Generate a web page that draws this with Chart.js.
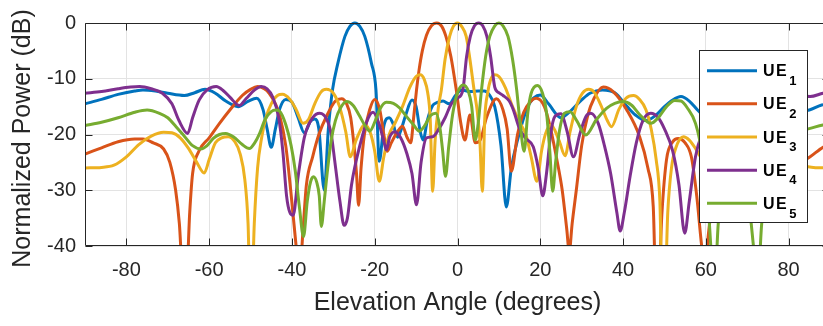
<!DOCTYPE html>
<html>
<head>
<meta charset="utf-8">
<title>Beam patterns</title>
<script src="https://cdn.jsdelivr.net/npm/chart.js@4.4.1/dist/chart.umd.min.js"></script>
<style>
  html, body { margin: 0; padding: 0; background: #fff; overflow: hidden; }
  #wrap { width: 840px; height: 326px; }
</style>
</head>
<body>
<div id="wrap"><canvas id="beamChart"></canvas></div>
<script>
// series names (TeX style, part after "_" is drawn as subscript)
const seriesNames = ["UE_1", "UE_2", "UE_3", "UE_4", "UE_5"];
const seriesColors = ["#0072BD", "#D95319", "#EDB120", "#7E2F8E", "#77AC30"];

const xTickValues = [-80, -60, -40, -20, 0, 20, 40, 60, 80];
const yTickValues = [-40, -30, -20, -10, 0];
const xTitle = "Elevation Angle (degrees)";
const yTitle = "Normalized Power (dB)";

// UE1 beam, steered to -25 deg
const ue1Angle = [-90,-86,-82,-78,-76,-73,-70,-66,-63.5,-61,-58.5,-56,-53,-50.5,-48.5,-47,-46,-45,-44,-43,-41.5,-40,-38.5,-37,-35.5,-34.5,-33.5,-32.2,-31.2,-30.2,-28.9,-27.2,-26,-24.8,-23.6,-22.4,-20.8,-19.7,-18.9,-17.8,-16.5,-15.6,-14.5,-13.8,-12.5,-11,-10,-9,-8.3,-7.3,-6,-5,-3.5,-2,-0.5,1,3,5,6.5,7.6,9,10.5,11.8,13,14.5,17,20,22,25,27,30,32,35,38,41,43,45.5,48,50,52,54,56,58,60,63,66,70,74,78,82,85,88,90];
const ue1Power = [-14.5,-13.7,-12.8,-12.2,-12.0,-12.2,-12.6,-13.0,-12.5,-11.9,-12.6,-14.0,-15.0,-14.0,-13.5,-15.5,-19,-22.3,-19,-15.5,-13.7,-14.2,-17,-19.7,-17.6,-17.2,-19,-30,-19,-12,-7.2,-2.4,-0.6,0,-0.6,-2.4,-7.2,-12,-24.8,-18.5,-17,-18,-20.5,-19.5,-16.5,-13.8,-15,-19.5,-21,-17.5,-14.8,-14.3,-14,-14.5,-13,-12,-12.3,-12.2,-12.2,-12.8,-15,-22,-33,-26,-21,-15,-12.9,-14.5,-17,-16,-13.8,-12.6,-12,-12.5,-15,-16.5,-17.5,-16.5,-15,-13.8,-13.2,-14,-15.6,-17,-18,-17,-15.5,-14.5,-15,-15.8,-15.6,-14.7,-14.5];

// UE2 beam, steered to -5 deg
const ue2Angle = [-90,-86,-82,-78,-76,-73.5,-71,-69.5,-68.1,-67.2,-66.3,-65.5,-64.7,-64,-62.5,-60,-57.5,-55,-52,-50,-48.3,-46.7,-45.5,-44,-43,-41.5,-40.3,-39,-38.2,-37.4,-36.5,-35,-33.5,-31.5,-29.5,-28,-26.8,-25.8,-25,-24.4,-23.9,-23.3,-22.5,-21.2,-20,-18.8,-17.8,-17,-16,-14.5,-13.3,-12.2,-11.3,-10.6,-9.9,-9.3,-8.5,-7.5,-6.3,-5,-3.8,-2.8,-1.6,-0.3,0.8,1.8,3,4.3,5.5,7,9.4,11,12,13,14.5,16,17.5,19,21,22.5,24,25.3,26.4,27,27.7,28.7,30,31.5,33,35.2,37.6,40.9,44,46,47.3,47.9,48.6,49.4,50.5,52,53.3,55,56.5,57.8,59,59.8,60.6,62.5,65,68,72,76,80,83,85.2,88.3,90];
const ue2Power = [-23.5,-22.4,-21.3,-20.8,-20.8,-21.5,-22.6,-25,-30,-36,-46,-46,-34,-27,-23,-20.6,-18,-15.6,-13,-11.9,-11.4,-11.8,-12.6,-14.5,-16.5,-22,-30,-40,-46,-38,-29,-24,-20,-16.5,-14,-13.6,-14.5,-17,-22,-27,-32.7,-26,-20,-15.5,-13.7,-15.5,-20,-23,-21.5,-19.5,-18.5,-20.5,-21.5,-17,-12,-8.5,-5,-2.2,-0.5,0,-0.6,-2.4,-6,-12,-18,-21,-16.5,-21.5,-21,-17,-13.6,-15.6,-19,-26.6,-20,-16,-14.2,-13.5,-15,-19,-24.5,-30,-37,-41,-36,-30,-22,-16.5,-13.5,-11.5,-12.3,-15.6,-20.4,-26,-33,-46,-46,-34,-24.5,-21.3,-20.7,-21.5,-24,-31,-40,-44,-38,-27,-22,-20.5,-21.5,-24.5,-26,-25,-24,-22.3,-21.8];

// UE3 beam, steered to 0 deg
const ue3Angle = [-90,-86,-83,-80,-77,-74,-71,-69,-67,-65,-63,-61.2,-60,-58.5,-57,-55.4,-53.8,-52.5,-51.4,-50.6,-50.2,-49.6,-49.1,-48.3,-47.3,-46.3,-45,-43.5,-42.3,-40.5,-39,-37.3,-36,-34.5,-33,-31.7,-30,-28.5,-27,-25.9,-24.5,-22.4,-21,-20,-18.9,-17.8,-16.5,-15,-13.3,-11.5,-10,-9,-8,-7.2,-6.6,-6,-5.4,-4.6,-3.9,-3,-1.9,-1,0,1,2.1,3,4,4.8,5.4,6,6.6,7.3,8,9,10,11.5,13.3,15,16.5,17.8,19.2,20.3,21.3,22.6,24.5,26,27.2,28.7,30.2,31.7,33,34.5,36.2,37.2,39,40.7,42.5,44,45.5,46.8,48,48.9,49.4,50.2,50.8,51.7,52.8,54.6,56,57.5,59.5,61.2,63,65,67,69,71,74,77,80,83,86,90];
const ue3Power = [-26,-25.9,-25.5,-24,-21.8,-20.3,-19.6,-19.7,-20.6,-22.5,-25,-26.9,-24.5,-21.5,-20.6,-20.4,-21.3,-23.5,-28,-36,-46,-46,-36,-26,-20.5,-17,-14.5,-13,-12.8,-13.7,-15.5,-18,-17.3,-14.5,-12.4,-11.9,-12.6,-15,-19.5,-24,-21,-18.3,-19.8,-23,-28.4,-24,-20,-17.8,-15,-11.5,-9.6,-9.3,-10.2,-12.5,-17,-30.2,-21,-15,-12,-6.5,-2.4,-0.6,0,-0.6,-2.4,-6.5,-12,-16,-21,-30.2,-17,-12.5,-10.2,-9.3,-9.6,-11.5,-15,-17.8,-20,-24,-28.4,-23,-19.8,-18.3,-21,-23.8,-19.5,-15,-12.6,-11.9,-12.4,-14.5,-17.5,-18.6,-15.5,-13.5,-13,-13.7,-15.5,-19,-24.5,-32,-46,-46,-34,-26,-22.3,-20.4,-21,-22.5,-25,-26.8,-25,-22.5,-20.6,-19.7,-19.6,-20.3,-21.8,-24,-25.5,-25.9,-26];

// UE4 beam, steered to 5 deg
const ue4Angle = [-90,-86,-82,-79,-76.8,-74,-71.3,-69,-67.3,-65.2,-64,-62.4,-60.5,-58.3,-56.5,-55,-52.7,-51,-49,-47.4,-46,-44.7,-43.2,-42.2,-41.3,-40.5,-39.7,-38.5,-37,-35,-33.3,-31.5,-30.5,-29.7,-28.4,-27.4,-26.6,-25.6,-23.6,-21.6,-20.4,-19,-17.7,-17.2,-16.4,-15.2,-13.8,-12.2,-11,-9.9,-8.8,-7.5,-6,-4.5,-3,-1.5,0,1.3,2.2,3.1,4.1,5.1,6.1,7.1,8,9,10,11,12.5,13.5,15,16.5,18.3,19.5,20.6,21.5,22.5,23.5,25,26.5,28,29.6,31,32.2,34,35.5,37,38.5,39.3,40.3,41.7,43.2,44.8,46.7,48.5,50,52,53.5,54.9,56,57.5,59,62,64,66,68,70,73,77,81,85.2,88.3,90];
const ue4Power = [-12.6,-12.3,-11.8,-11.5,-11.4,-11.8,-12.6,-14.5,-17.5,-19.8,-17,-13.8,-12,-11.4,-12.2,-13.3,-14.8,-13.5,-12,-11.4,-11.8,-13.2,-17,-23,-31,-34,-34.5,-27.5,-20.5,-17,-16.2,-17.4,-20,-24.5,-32,-36.3,-35,-29,-22,-17.1,-16,-18,-21.5,-22.8,-20.5,-19.5,-20.5,-23.5,-27,-32.6,-25,-20.6,-20.4,-19,-17,-14.5,-13.5,-12,-6,-2.4,-0.5,0,-0.5,-2.4,-6,-11.5,-12.5,-13,-14,-15.6,-19,-20.7,-22.2,-26,-31,-27,-20,-16.8,-16.3,-19.5,-24,-19.8,-16.8,-16.2,-18,-22,-27,-34,-37.3,-34,-27.5,-21.5,-17.5,-16.2,-17,-19,-23,-29,-37.7,-32,-24,-20,-16.5,-16.5,-18.5,-22,-20,-15.5,-13,-12.6,-13.2,-12.6,-12.4];

// UE5 beam, steered to 10 deg
const ue5Angle = [-90,-86,-82,-78,-75,-72,-70,-68,-66,-64,-62,-60.5,-59,-57.5,-56,-54,-52,-50.3,-49,-47.8,-46.5,-45,-44,-43,-41.5,-40.2,-39.2,-38.2,-37.2,-36.3,-35.5,-34.8,-34,-33.4,-32.9,-32.2,-31.5,-30.5,-29.5,-28.3,-26.8,-25.2,-23.8,-22.5,-21.2,-20,-18.8,-17.2,-15.5,-13.9,-12.3,-10.7,-9.2,-8,-6.5,-5.2,-4.3,-3.6,-2.9,-2.1,-1.2,0,1.4,2.6,3.4,4.3,5,5.8,6.8,7.8,9,10,11,12.2,13.3,14.3,15.2,16.1,17,17.8,19.3,20.5,21.5,22.3,23,23.7,24.6,25.8,27.2,28.8,31,33.5,36,38,40,42,44.1,46.7,48.5,50.5,52.5,54,55.5,57.5,59,60.5,61.4,62.2,63,64.5,66.5,68.5,70.5,71.8,72.6,73.5,75.5,78,82,85.2,88.3,90];
const ue5Power = [-18.4,-17.8,-17,-16,-15.6,-16.2,-17,-18.6,-20.3,-22,-22.6,-22,-20.7,-20,-19.8,-20.5,-21.8,-22.5,-21.5,-19.8,-17.3,-15.9,-15.6,-15.8,-18.2,-22,-26.5,-33,-38.3,-32,-28.5,-27.6,-28.6,-31,-36.5,-32,-27,-21,-17.5,-15.3,-14.1,-14.8,-16.5,-18.2,-19.4,-17.8,-15.5,-14.2,-14.4,-15.3,-16.8,-18.2,-19.4,-18.5,-16.6,-16.2,-18.5,-22.8,-27.5,-22,-16.5,-12.5,-11.1,-12.2,-14.8,-21,-18,-12,-6,-2.4,-0.5,0,-0.5,-2.4,-6.5,-12,-18.5,-23,-16,-12.6,-11.2,-12.5,-16,-23,-30.2,-25,-19.5,-16.2,-15.9,-17.5,-20.1,-17.4,-15.3,-14.4,-14.1,-14.7,-16.5,-18,-17,-15,-13.9,-14,-15.2,-18,-23,-32,-42,-46,-36,-28,-25.5,-27,-33,-42,-46,-36,-27,-22,-19.5,-18.9,-18.3,-18.2];

const angles = [ue1Angle, ue2Angle, ue3Angle, ue4Angle, ue5Angle];
const powers = [ue1Power, ue2Power, ue3Power, ue4Power, ue5Power];

const fontFamily = '"Liberation Sans", Arial, Helvetica, sans-serif';
Chart.defaults.font.family = fontFamily;
Chart.defaults.color = "#262626";

// box around the axes with MATLAB style inward ticks, plus the y label
const axisFrame = {
    id: "axisFrame",
    afterDatasetsDraw(chart) {
        const { ctx, chartArea: a, scales } = chart;
        const left = Math.round(a.left) + 0.5, right = Math.round(a.right) - 0.5;
        const top = Math.round(a.top) + 0.5, bottom = Math.round(a.bottom) - 0.5;
        ctx.save();
        ctx.strokeStyle = "#262626";
        ctx.lineWidth = 1;
        ctx.beginPath();
        ctx.rect(left, top, right - left, bottom - top);
        xTickValues.forEach(v => {
            const px = Math.round(scales.x.getPixelForValue(v)) + 0.5;
            ctx.moveTo(px, bottom); ctx.lineTo(px, bottom - 7);
            ctx.moveTo(px, top); ctx.lineTo(px, top + 7);
        });
        yTickValues.forEach(v => {
            const py = Math.round(scales.y.getPixelForValue(v)) + 0.5;
            ctx.moveTo(left, py); ctx.lineTo(left + 7, py);
            ctx.moveTo(right, py); ctx.lineTo(right - 7, py);
        });
        ctx.stroke();

        // y label sits a bit lower than chart.js would centre it
        ctx.translate(23, (a.top + a.bottom) / 2 + 4);
        ctx.rotate(-Math.PI / 2);
        ctx.fillStyle = "#262626";
        ctx.font = "25px " + fontFamily;
        ctx.textAlign = "center";
        ctx.textBaseline = "middle";
        ctx.fillText(yTitle, 0, 0);
        ctx.restore();
    }
};

// legend with subscripts, drawn inside the axes
const ueLegend = {
    id: "ueLegend",
    afterDraw(chart) {
        const ctx = chart.ctx;
        const bx = 699.5, by = 50.5, bw = 108, bh = 172;
        ctx.save();
        ctx.fillStyle = "#fff";
        ctx.fillRect(bx, by, bw, bh);
        ctx.strokeStyle = "#262626";
        ctx.lineWidth = 1;
        ctx.strokeRect(bx, by, bw, bh);
        chart.data.datasets.forEach((ds, i) => {
            const rowY = 70.7 + i * 33.15;
            ctx.strokeStyle = ds.borderColor;
            ctx.lineWidth = ds.borderWidth;
            ctx.beginPath();
            ctx.moveTo(707, rowY);
            ctx.lineTo(757, rowY);
            ctx.stroke();
            const [base, sub] = ds.label.split("_");
            ctx.fillStyle = "#000";
            ctx.textBaseline = "alphabetic";
            ctx.font = "bold 16px " + fontFamily;
            let tx = 763;
            for (const ch of base) {
                ctx.fillText(ch, tx, rowY + 5.6);
                tx += ctx.measureText(ch).width + 1.5;
            }
            ctx.font = "bold 13px " + fontFamily;
            ctx.fillText(sub, tx + 1, rowY + 14.3);
        });
        ctx.restore();
    }
};

const datasets = seriesNames.map((name, i) => ({
    label: name,
    data: angles[i].map((a, k) => ({ x: a, y: powers[i][k] })),
    borderColor: seriesColors[i],
    backgroundColor: seriesColors[i],
    borderWidth: 3,
    pointRadius: 0,
    fill: false,
    cubicInterpolationMode: "monotone",
    clip: { left: 0, right: 0, top: 3, bottom: 0 },
    order: seriesNames.length - i
}));

new Chart(document.getElementById("beamChart"), {
    type: "line",
    data: { datasets: datasets },
    options: {
        responsive: true,
        maintainAspectRatio: false,
        animation: false,
        devicePixelRatio: 1,
        layout: { padding: { left: 0, right: 10, top: 23, bottom: 0 } },
        plugins: {
            legend: { display: false },
            tooltip: { enabled: false }
        },
        scales: {
            x: {
                type: "linear",
                min: -90,
                max: 90,
                afterBuildTicks: s => { s.ticks = xTickValues.map(v => ({ value: v })); },
                afterFit: s => { s.height = 80; },
                ticks: { font: { size: 20 }, padding: 12, color: "#262626", maxRotation: 0 },
                grid: { color: "#e3e3e3", drawTicks: false },
                border: { display: false },
                title: {
                    display: true,
                    text: xTitle,
                    font: { size: 25 },
                    color: "#262626",
                    padding: { top: 0, bottom: 8 }
                }
            },
            y: {
                type: "linear",
                min: -40,
                max: 0,
                afterBuildTicks: s => { s.ticks = yTickValues.map(v => ({ value: v })); },
                afterFit: s => { s.width = 85; },
                ticks: { font: { size: 20 }, padding: 9, color: "#262626" },
                grid: { color: "#e3e3e3", drawTicks: false },
                border: { display: false },
                title: { display: false }
            }
        }
    },
    plugins: [axisFrame, ueLegend]
});
</script>
</body>
</html>
